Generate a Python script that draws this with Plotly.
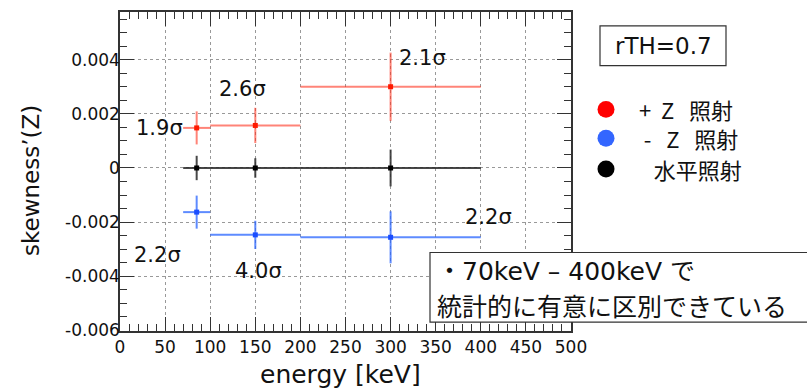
import plotly.graph_objects as go

# Energy bins [keV]
bin_lo = [70, 100, 200]
bin_hi = [100, 200, 400]
bin_center = [85, 150, 300]

# skewness'(Z) per bin with statistical errors
plus_z = [0.00148, 0.00157, 0.00300]
plus_z_err = [0.00061, 0.00065, 0.00126]
minus_z = [-0.00163, -0.00247, -0.00256]
minus_z_err = [0.00061, 0.00052, 0.00096]
horizontal = [0.0, 0.0, 0.0]
horizontal_err = [0.00045, 0.00036, 0.00068]

# significance labels: (x, y, text)
sig_x = [44, 136, 335, 408, 42, 154]
sig_y = [0.00147, 0.00293, 0.00406, -0.00182, -0.00321, -0.00381]
sig_text = ["1.9σ", "2.6σ", "2.1σ", "2.2σ", "2.2σ", "4.0σ"]

x_tickvals = [0, 50, 100, 150, 200, 250, 300, 350, 400, 450, 500]
y_tickvals = [-0.006, -0.004, -0.002, 0, 0.002, 0.004]
y_ticktext = ["-0.006", "-0.004", "-0.002", "0", "0.002", "0.004"]

key_names = [" +  Z   照射", "  -   Z   照射", "    水平照射"]
key_colors = ["#ff0000", "#3366ff", "#000000"]

W, H = 807, 388
L, R, T, B = 120, 571, 10, 331


def px(x):
    return (x - L) / (R - L)


def py(y):
    return (B - y) / (B - T)


err_minus_x = [c - lo for c, lo in zip(bin_center, bin_lo)]
err_plus_x = [hi - c for c, hi in zip(bin_center, bin_hi)]

fig = go.Figure()


def add_series(name, y, yerr, marker_color, line_color):
    fig.add_trace(go.Scatter(
        x=bin_center, y=y, mode="markers", name=name, showlegend=False,
        marker=dict(symbol="square", size=5, color=marker_color),
        error_x=dict(type="data", symmetric=False, array=err_plus_x,
                     arrayminus=err_minus_x, color=line_color, thickness=2, width=0),
        error_y=dict(type="data", array=yerr, color=line_color, thickness=2, width=0),
    ))


add_series(key_names[2], horizontal, horizontal_err, "#000000", "rgba(40,40,40,0.85)")
add_series(key_names[0], plus_z, plus_z_err, "#ff1a00", "rgba(255,50,30,0.6)")
add_series(key_names[1], minus_z, minus_z_err, "#1a4dff", "rgba(40,100,255,0.75)")

annotations = []
for xv, yv, tv in zip(sig_x, sig_y, sig_text):
    annotations.append(dict(x=xv, y=yv, xref="x", yref="y", text=tv, showarrow=False,
                            xanchor="center", yanchor="middle",
                            font=dict(family="DejaVu Sans", size=21, color="#111")))


def note(x, y, text, size, family="DejaVu Sans", xanchor="center", angle=0):
    return dict(x=px(x), y=py(y), xref="paper", yref="paper", text=text,
                textangle=angle, showarrow=False, xanchor=xanchor, yanchor="middle",
                font=dict(family=family, size=size, color="#111"))


annotations += [
    note(31, 180, "skewness’(Z)", 23, angle=-90),
    note(340, 375, "energy [keV]", 25),
    note(663, 44, "rTH=0.7", 23),
    note(435, 271, "・70keV – 400keV で", 25,
         family="DejaVu Sans, Noto Sans CJK JP", xanchor="left"),
    note(435, 305, "統計的に有意に区別できている", 25, family="Noto Sans CJK JP", xanchor="left"),
]

shapes = [
    dict(type="rect", xref="paper", yref="paper", x0=px(600), x1=px(726), y0=py(64), y1=py(24),
         line=dict(color="#333", width=1.2), fillcolor="white", layer="above"),
    dict(type="rect", xref="paper", yref="paper", x0=px(430), x1=px(820), y0=py(322), y1=py(252),
         line=dict(color="#333", width=1.2), fillcolor="white", layer="above"),
]

# key: coloured dots with their labels, to the right of the frame
key_y = [108, 137, 168]
for name, col, yk in zip(key_names, key_colors, key_y):
    shapes.append(dict(type="circle", xref="paper", yref="paper",
                       x0=px(597.5), x1=px(614.5), y0=py(yk + 8.5), y1=py(yk - 8.5),
                       line=dict(width=0), fillcolor=col, layer="above"))
    annotations.append(note(632, yk, name, 22, family="Noto Sans CJK JP", xanchor="left"))

axis_common = dict(
    showline=True, linecolor="#333", linewidth=1.5, mirror="allticks",
    ticks="inside", ticklen=14, tickcolor="#333", tickwidth=1.2,
    showgrid=True, gridcolor="#999", griddash="dot", gridwidth=1,
    zeroline=False,
    tickfont=dict(family="DejaVu Sans", size=17, color="#111"),
)

fig.update_xaxes(range=[0, 500], tickvals=x_tickvals,
                 minor=dict(ticks="inside", ticklen=7, dtick=10, tickcolor="#333", showgrid=False),
                 **axis_common)
fig.update_yaxes(range=[-0.00602, 0.00576], tickvals=y_tickvals, ticktext=y_ticktext,
                 ticklabelstandoff=-5,
                 minor=dict(ticks="inside", ticklen=7, dtick=0.0005, tickcolor="#333", showgrid=False),
                 **axis_common)

fig.update_layout(
    width=W, height=H,
    margin=dict(l=L, r=W - R, t=T, b=H - B),
    paper_bgcolor="white", plot_bgcolor="white",
    annotations=annotations, shapes=shapes, showlegend=False,
)

fig.write_html("out.html")
